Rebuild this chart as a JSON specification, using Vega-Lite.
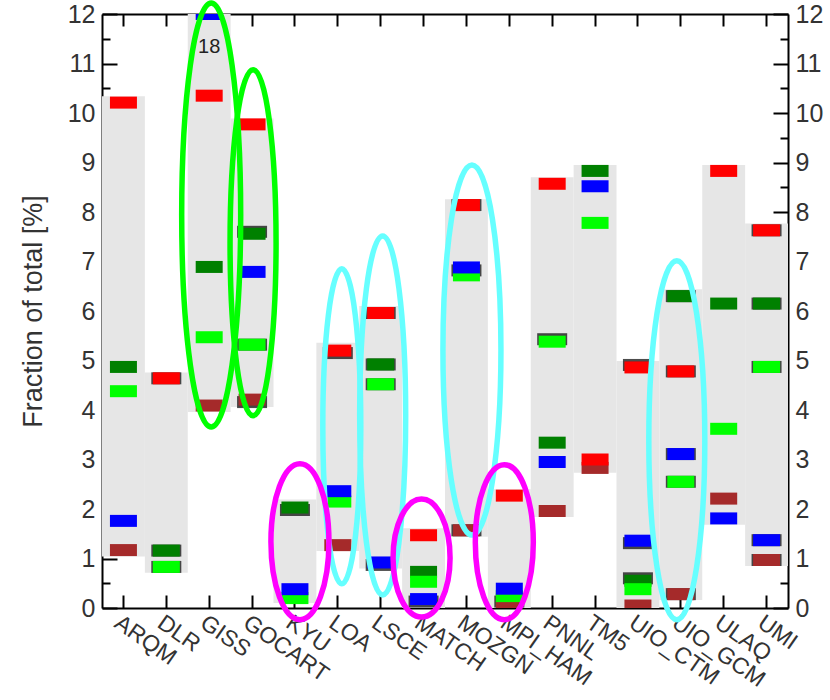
{
  "$schema": "https://vega.github.io/schema/vega-lite/v6.json",
  "autosize": "none",
  "width": 686,
  "height": 594,
  "padding": {"left": 102, "top": 14, "right": 42, "bottom": 92},
  "background": "white",
  "config": {
    "view": {"stroke": null},
    "font": "Liberation Sans",
    "axis": {"domainColor": "black", "domainWidth": 2, "tickColor": "black", "tickWidth": 2, "labelColor": "#333", "labelFont": "Liberation Sans", "titleFont": "Liberation Sans", "grid": false}
  },
  "datasets": {
    "ranges": [
      {"model": "ARQM", "lo": 1.04, "hi": 10.34},
      {"model": "DLR", "lo": 0.71, "hi": 4.76},
      {"model": "GISS", "lo": 3.96, "hi": 18},
      {"model": "GOCART", "lo": 4.06, "hi": 9.89},
      {"model": "KYU", "lo": 0.1, "hi": 2.19},
      {"model": "LOA", "lo": 1.15, "hi": 5.36},
      {"model": "LSCE", "lo": 0.8, "hi": 6.1},
      {"model": "MATCH", "lo": 0, "hi": 1.61},
      {"model": "MOZGN", "lo": 1.44, "hi": 8.26},
      {"model": "MPI_HAM", "lo": 0, "hi": 2.4},
      {"model": "PNNL", "lo": 1.84, "hi": 8.7},
      {"model": "TM5", "lo": 2.73, "hi": 8.95},
      {"model": "UIO_CTM", "lo": 0, "hi": 4.99},
      {"model": "UIO_GCM", "lo": 0.16, "hi": 6.44},
      {"model": "ULAQ", "lo": 1.68, "hi": 8.95},
      {"model": "UMI", "lo": 0.85, "hi": 7.77}
    ],
    "edges": [
      {"model": "DLR", "value": 4.64}, {"model": "DLR", "value": 1.16}, {"model": "DLR", "value": 0.83},
      {"model": "GOCART", "value": 7.6}, {"model": "GOCART", "value": 5.32}, {"model": "GOCART", "value": 4.16},
      {"model": "KYU", "value": 1.98},
      {"model": "LOA", "value": 5.15},
      {"model": "LSCE", "value": 5.96}, {"model": "LSCE", "value": 4.92}, {"model": "LSCE", "value": 4.52}, {"model": "LSCE", "value": 0.87},
      {"model": "MATCH", "value": 0.13},
      {"model": "MOZGN", "value": 8.14}, {"model": "MOZGN", "value": 6.82}, {"model": "MOZGN", "value": 1.57},
      {"model": "MPI_HAM", "value": 0.13},
      {"model": "PNNL", "value": 5.43},
      {"model": "UIO_CTM", "value": 4.91}, {"model": "UIO_CTM", "value": 1.31}, {"model": "UIO_CTM", "value": 0.6},
      {"model": "UIO_GCM", "value": 6.3}, {"model": "UIO_GCM", "value": 4.78}, {"model": "UIO_GCM", "value": 3.11}, {"model": "UIO_GCM", "value": 2.55}, {"model": "UIO_GCM", "value": 0.28},
      {"model": "UMI", "value": 7.63}, {"model": "UMI", "value": 6.15}, {"model": "UMI", "value": 4.87}, {"model": "UMI", "value": 1.37}, {"model": "UMI", "value": 0.97}
    ],
    "markers": [
      {"model": "ARQM", "series": "darkgreen", "value": 4.87},
      {"model": "DLR", "series": "darkgreen", "value": 1.16},
      {"model": "GISS", "series": "darkgreen", "value": 6.89},
      {"model": "GOCART", "series": "darkgreen", "value": 7.56},
      {"model": "KYU", "series": "darkgreen", "value": 2.03},
      {"model": "LSCE", "series": "darkgreen", "value": 4.92},
      {"model": "MATCH", "series": "darkgreen", "value": 0.73},
      {"model": "MPI_HAM", "series": "darkgreen", "value": 0.17},
      {"model": "PNNL", "series": "darkgreen", "value": 3.34},
      {"model": "TM5", "series": "darkgreen", "value": 8.83},
      {"model": "UIO_CTM", "series": "darkgreen", "value": 0.55},
      {"model": "UIO_GCM", "series": "darkgreen", "value": 6.3},
      {"model": "ULAQ", "series": "darkgreen", "value": 6.15},
      {"model": "UMI", "series": "darkgreen", "value": 6.15},
      {"model": "ARQM", "series": "brown", "value": 1.17},
      {"model": "GISS", "series": "brown", "value": 4.09},
      {"model": "GOCART", "series": "brown", "value": 4.21},
      {"model": "LOA", "series": "brown", "value": 1.27},
      {"model": "MOZGN", "series": "brown", "value": 1.57},
      {"model": "MPI_HAM", "series": "brown", "value": 0.06},
      {"model": "PNNL", "series": "brown", "value": 1.96},
      {"model": "TM5", "series": "brown", "value": 2.83},
      {"model": "UIO_CTM", "series": "brown", "value": 0.05},
      {"model": "UIO_GCM", "series": "brown", "value": 0.28},
      {"model": "ULAQ", "series": "brown", "value": 2.21},
      {"model": "UMI", "series": "brown", "value": 0.97},
      {"model": "ARQM", "series": "lime", "value": 4.38},
      {"model": "DLR", "series": "lime", "value": 0.83},
      {"model": "GISS", "series": "lime", "value": 5.47},
      {"model": "GOCART", "series": "lime", "value": 5.32},
      {"model": "KYU", "series": "lime", "value": 0.2},
      {"model": "LOA", "series": "lime", "value": 2.15},
      {"model": "LSCE", "series": "lime", "value": 4.52},
      {"model": "MATCH", "series": "lime", "value": 0.53},
      {"model": "MOZGN", "series": "lime", "value": 6.72},
      {"model": "MPI_HAM", "series": "lime", "value": 0.24},
      {"model": "PNNL", "series": "lime", "value": 5.38},
      {"model": "TM5", "series": "lime", "value": 7.78},
      {"model": "UIO_CTM", "series": "lime", "value": 0.38},
      {"model": "UIO_GCM", "series": "lime", "value": 2.55},
      {"model": "ULAQ", "series": "lime", "value": 3.62},
      {"model": "UMI", "series": "lime", "value": 4.87},
      {"model": "ARQM", "series": "red", "value": 10.21},
      {"model": "DLR", "series": "red", "value": 4.64},
      {"model": "GISS", "series": "red", "value": 10.35},
      {"model": "GOCART", "series": "red", "value": 9.77},
      {"model": "LOA", "series": "red", "value": 5.2},
      {"model": "LSCE", "series": "red", "value": 5.96},
      {"model": "MATCH", "series": "red", "value": 1.47},
      {"model": "MOZGN", "series": "red", "value": 8.14},
      {"model": "MPI_HAM", "series": "red", "value": 2.27},
      {"model": "PNNL", "series": "red", "value": 8.57},
      {"model": "TM5", "series": "red", "value": 3.0},
      {"model": "UIO_CTM", "series": "red", "value": 4.86},
      {"model": "UIO_GCM", "series": "red", "value": 4.78},
      {"model": "ULAQ", "series": "red", "value": 8.83},
      {"model": "UMI", "series": "red", "value": 7.63},
      {"model": "ARQM", "series": "blue", "value": 1.76},
      {"model": "GISS", "series": "blue", "value": 18},
      {"model": "GOCART", "series": "blue", "value": 6.79},
      {"model": "KYU", "series": "blue", "value": 0.38},
      {"model": "LOA", "series": "blue", "value": 2.36},
      {"model": "LSCE", "series": "blue", "value": 0.92},
      {"model": "MATCH", "series": "blue", "value": 0.18},
      {"model": "MOZGN", "series": "blue", "value": 6.88},
      {"model": "MPI_HAM", "series": "blue", "value": 0.39},
      {"model": "PNNL", "series": "blue", "value": 2.95},
      {"model": "TM5", "series": "blue", "value": 8.52},
      {"model": "UIO_CTM", "series": "blue", "value": 1.36},
      {"model": "UIO_GCM", "series": "blue", "value": 3.11},
      {"model": "ULAQ", "series": "blue", "value": 1.81},
      {"model": "UMI", "series": "blue", "value": 1.37}
    ],
    "notes": [
      {"model": "GISS", "value": 18, "label": "18"}
    ],
    "rings": [
      {"model": "GISS", "mid": 7.94, "ring": "r1", "set": "A"},
      {"model": "GOCART", "mid": 7.38, "ring": "r2", "set": "A"},
      {"model": "LOA", "mid": 3.67, "ring": "r3", "set": "B"},
      {"model": "LSCE", "mid": 3.89, "ring": "r4", "set": "B"},
      {"model": "MOZGN", "mid": 5.21, "ring": "r5", "set": "B"},
      {"model": "UIO_GCM", "mid": 3.39, "ring": "r6", "set": "B"},
      {"model": "KYU", "mid": 1.34, "ring": "r7", "set": "C"},
      {"model": "MATCH", "mid": 1.01, "ring": "r8", "set": "C"},
      {"model": "MPI_HAM", "mid": 1.33, "ring": "r9", "set": "C"}
    ]
  },
  "resolve": {"axis": {"x": "independent", "y": "independent"}},
  "layer": [
    {
      "data": {"name": "ranges"},
      "mark": {"type": "bar", "color": "#e6e6e6", "clip": true},
      "encoding": {
        "x": {"field": "model", "type": "nominal", "sort": null,
              "scale": {"paddingInner": 0, "paddingOuter": 0},
              "axis": {"orient": "bottom", "title": null, "labelAngle": 35, "labelAlign": "left", "labelBaseline": "top", "labelFontSize": 23, "tickSize": -13, "labelPadding": 16}},
        "y": {"field": "lo", "type": "quantitative",
              "scale": {"domain": [0, 12], "nice": false, "clamp": true, "zero": false},
              "axis": {"orient": "left", "title": "Fraction of total [%]", "titleFontSize": 27, "titleFontWeight": "normal", "titleColor": "#333", "titlePadding": 20,
                       "values": [0,0.5,1,1.5,2,2.5,3,3.5,4,4.5,5,5.5,6,6.5,7,7.5,8,8.5,9,9.5,10,10.5,11,11.5,12],
                       "labelExpr": "datum.value % 1 === 0 ? format(datum.value, 'd') : ''",
                       "labelFontSize": 25, "labelPadding": 22,
                       "tickSize": {"condition": {"test": "datum.value % 1 === 0", "value": -15}, "value": -8}}},
        "y2": {"field": "hi"}
      }
    },
    {
      "data": {"name": "edges"},
      "mark": {"type": "tick", "color": "black", "thickness": 12, "size": 30, "clip": true},
      "encoding": {
        "x": {"field": "model", "type": "nominal", "sort": null,
              "axis": {"orient": "top", "title": null, "labels": false, "tickSize": -12}},
        "y": {"field": "value", "type": "quantitative",
              "axis": {"orient": "right", "title": null,
                       "values": [0,0.5,1,1.5,2,2.5,3,3.5,4,4.5,5,5.5,6,6.5,7,7.5,8,8.5,9,9.5,10,10.5,11,11.5,12],
                       "labelExpr": "datum.value % 1 === 0 ? format(datum.value, 'd') : ''",
                       "labelFontSize": 25, "labelPadding": 22,
                       "tickSize": {"condition": {"test": "datum.value % 1 === 0", "value": -15}, "value": -8}}}
      }
    },
    {
      "data": {"name": "markers"},
      "mark": {"type": "tick", "thickness": 12, "size": 27, "opacity": 1, "clip": true},
      "encoding": {
        "x": {"field": "model", "type": "nominal", "sort": null, "axis": null},
        "y": {"field": "value", "type": "quantitative", "axis": null},
        "color": {"field": "series", "type": "nominal", "legend": null,
                  "scale": {"domain": ["red", "brown", "darkgreen", "lime", "blue"], "range": ["#ff0000", "#a52a2a", "#008000", "#00ff00", "#0000ff"]}}
      }
    },
    {
      "data": {"name": "notes"},
      "mark": {"type": "text", "fontSize": 20, "color": "#222", "dy": 33, "baseline": "middle"},
      "encoding": {
        "x": {"field": "model", "type": "nominal", "sort": null, "axis": null},
        "y": {"field": "value", "type": "quantitative", "axis": null},
        "text": {"field": "label"}
      }
    },
    {
      "data": {"name": "rings"},
      "mark": {"type": "point", "filled": false, "strokeWidth": 5.5, "size": 4, "opacity": 1},
      "encoding": {
        "x": {"field": "model", "type": "nominal", "sort": null, "axis": null},
        "y": {"field": "mid", "type": "quantitative", "axis": null},
        "shape": {"field": "ring", "type": "nominal", "legend": null,
                  "scale": {"domain": ["r1","r2","r3","r4","r5","r6","r7","r8","r9"],
                            "range": [
                              "M2,-212A29.5,212 0 1,1 2,212A29.5,212 0 1,1 2,-212Z",
                              "M1,-173A23,173 0 1,1 1,173A23,173 0 1,1 1,-173Z",
                              "M4,-157.5A19,157.5 0 1,1 4,157.5A19,157.5 0 1,1 4,-157.5Z",
                              "M2,-179.5A23,179.5 0 1,1 2,179.5A23,179.5 0 1,1 2,-179.5Z",
                              "M5.5,-185A29,185 0 1,1 5.5,185A29,185 0 1,1 5.5,-185Z",
                              "M-4,-179.5A28,179.5 0 1,1 -4,179.5A28,179.5 0 1,1 -4,-179.5Z",
                              "M5,-78A29,78 0 1,1 5,78A29,78 0 1,1 5,-78Z",
                              "M-2,-59A28.5,59 0 1,1 -2,59A28.5,59 0 1,1 -2,-59Z",
                              "M-5,-77.5A29,77.5 0 1,1 -5,77.5A29,77.5 0 1,1 -5,-77.5Z"
                            ]}},
        "stroke": {"field": "set", "type": "nominal", "legend": null,
                   "scale": {"domain": ["A", "B", "C"], "range": ["#00ff00", "#66ffff", "#ff00ff"]}}
      }
    }
  ]
}
